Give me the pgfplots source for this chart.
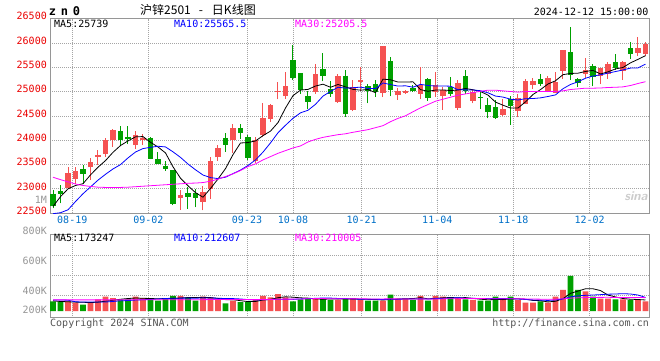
\documentclass[border=0pt]{standalone}
\usepackage{fontspec}
\usepackage{pgfplots}
\pgfplotsset{compat=1.18}
\newfontfamily\mono{DejaVu Sans Mono}
\newfontfamily\monob{DejaVu Sans Mono Bold}
\newfontfamily\cjk{Noto Sans CJK SC}
\newcommand\mf{\mono\fontsize{10bp}{12bp}\selectfont}
\definecolor{kred}{RGB}{245,82,82}
\definecolor{kgreen}{RGB}{0,160,0}
\definecolor{axgray}{RGB}{150,150,150}
\definecolor{gridgray}{RGB}{165,165,165}
\definecolor{tickred}{RGB}{235,0,0}
\definecolor{dateblue}{RGB}{0,112,200}
\definecolor{lblgray}{RGB}{150,150,150}
\definecolor{txtgray}{RGB}{85,85,85}
\definecolor{maten}{RGB}{0,0,255}
\definecolor{mathirty}{RGB}{255,0,255}
\pgfplotsset{
  kbase/.style={
    anchor=south west, scale only axis, width=599bp,
    xmin=-0.4, xmax=79.47,
    scaled x ticks=false, scaled y ticks=false,
    axis line style={draw=axgray, line width=1bp},
    xtick={2.57,12.71,25.87,32,41.16,51.24,61.37,71.56},
    major tick length=0pt,
    grid=major,
    major grid style={draw=gridgray, line width=0.8bp, dash pattern=on 1bp off 1bp},
    unbounded coords=jump,
  }
}
\begin{document}
\begin{tikzpicture}[x=1bp,y=1bp]
\useasboundingbox (0,0) rectangle (660,360);
\fill[white] (0,0) rectangle (660,360);
\begin{axis}[kbase, at={(50bp,146.8bp)}, height=194.5bp,
  ymin=22500, ymax=26500,
  xticklabels={08-19,09-02,09-23,10-08,10-21,11-04,11-18,12-02},
  ytick={22500,23000,23500,24000,24500,25000,25500,26000,26500},
  yticklabels={22500,23000,23500,24000,24500,25000,25500,26000,26500},
  xticklabel style={font=\mf, text=dateblue, anchor=north, inner sep=0pt, yshift=-3bp},
  yticklabel style={font=\mf, text=tickred, anchor=east, inner sep=0pt, xshift=-3bp, yshift=2.5bp},
]
% red (rising) candles: wicks low-high, bodies open-close
\addplot[kred, line width=1bp] coordinates {
(2,22990)(2,23440)(2,nan)(3,23110)(3,23440)(3,nan)(5,23190)(5,23630)(5,nan)(6,23500)(6,23810)(6,nan)
(7,23660)(7,24040)(7,nan)(8,23870)(8,24240)(8,nan)(11,23830)(11,24190)(11,nan)(12,23910)(12,24130)(12,nan)
(17,22570)(17,22980)(17,nan)(20,22560)(20,23050)(20,nan)(21,22800)(21,23650)(21,nan)(22,23580)(22,23910)(22,nan)
(24,23745)(24,24330)(24,nan)(27,23540)(27,24075)(27,nan)(28,24060)(28,24770)(28,nan)(29,24375)(29,24745)(29,nan)
(30,24840)(30,25195)(30,nan)(31,24850)(31,25400)(31,nan)(35,24960)(35,25560)(35,nan)(38,24770)(38,25360)(38,nan)
(40,24600)(40,25240)(40,nan)(41,25005)(41,25500)(41,nan)(44,24885)(44,25935)(44,nan)(46,24830)(46,25075)(46,nan)
(47,24955)(47,25035)(47,nan)(49,24845)(49,25510)(49,nan)(51,24885)(51,25400)(51,nan)(52,24625)(52,25100)(52,nan)
(54,24625)(54,25240)(54,nan)(56,24760)(56,25060)(56,nan)(60,24500)(60,24840)(60,nan)(62,24470)(62,24960)(62,nan)
(63,24745)(63,25250)(63,nan)(64,25060)(64,25290)(64,nan)(66,24990)(66,25315)(66,nan)(67,24975)(67,25400)(67,nan)
(68,25260)(68,25865)(68,nan)(71,25290)(71,25685)(71,nan)(73,25155)(73,25495)(73,nan)(74,25260)(74,25605)(74,nan)
(76,25235)(76,25620)(76,nan)(78,25730)(78,26120)(78,nan)(79,25740)(79,26015)(79,nan)};
\addplot[kred, line width=5.6bp] coordinates {
(2,23020)(2,23330)(2,nan)(3,23200)(3,23360)(3,nan)(5,23440)(5,23550)(5,nan)(6,23660)(6,23690)(6,nan)
(7,23725)(7,24010)(7,nan)(8,24000)(8,24210)(8,nan)(11,23910)(11,24110)(11,nan)(12,24000)(12,24040)(12,nan)
(17,22815)(17,22870)(17,nan)(20,22740)(20,22940)(20,nan)(21,23000)(21,23580)(21,nan)(22,23650)(22,23840)(22,nan)
(24,24005)(24,24250)(24,nan)(27,23580)(27,24005)(27,nan)(28,24100)(28,24455)(28,nan)(29,24445)(29,24715)(29,nan)
(30,24990)(30,25015)(30,nan)(31,24910)(31,25125)(31,nan)(35,24990)(35,25360)(35,nan)(38,24785)(38,25315)(38,nan)
(40,24625)(40,25100)(40,nan)(41,25200)(41,25240)(41,nan)(44,24980)(44,25930)(44,nan)(46,24925)(46,25005)(46,nan)
(47,24980)(47,25020)(47,nan)(49,24955)(49,25130)(49,nan)(51,24995)(51,25130)(51,nan)(52,24910)(52,25035)(52,nan)
(54,24665)(54,25185)(54,nan)(56,24815)(56,24995)(56,nan)(60,24525)(60,24650)(60,nan)(62,24595)(62,24865)(62,nan)
(63,24755)(63,25220)(63,nan)(64,25140)(64,25220)(64,nan)(66,25005)(66,25275)(66,nan)(67,24975)(67,25195)(67,nan)
(68,25425)(68,25850)(68,nan)(71,25360)(71,25455)(71,nan)(73,25330)(73,25480)(73,nan)(74,25370)(74,25565)(74,nan)
(76,25425)(76,25605)(76,nan)(78,25795)(78,25890)(78,nan)(79,25780)(79,25970)(79,nan)};
% green (falling) candles
\addplot[kgreen, line width=1bp] coordinates {
(0,22600)(0,22980)(0,nan)(1,22700)(1,23090)(1,nan)(4,23100)(4,23490)(4,nan)(9,23890)(9,24300)(9,nan)
(10,23920)(10,24290)(10,nan)(13,23610)(13,24060)(13,nan)(14,23510)(14,23765)(14,nan)(15,23370)(15,23575)(15,nan)
(16,22660)(16,23390)(16,nan)(18,22595)(18,23045)(18,nan)(19,22620)(19,23000)(19,nan)(23,23760)(23,24155)(23,nan)
(25,24030)(25,24330)(25,nan)(26,23600)(26,24100)(26,nan)(32,25235)(32,25960)(32,nan)(33,24950)(33,25390)(33,nan)
(34,24635)(34,25015)(34,nan)(36,25210)(36,25795)(36,nan)(37,24895)(37,25210)(37,nan)(39,24485)(39,25455)(39,nan)
(42,24760)(42,25155)(42,nan)(43,24885)(43,25240)(43,nan)(45,24900)(45,25715)(45,nan)(48,24995)(48,25140)(48,nan)
(50,24815)(50,25280)(50,nan)(53,24900)(53,25305)(53,nan)(55,24950)(55,25440)(55,nan)(57,24640)(57,25020)(57,nan)
(58,24450)(58,24860)(58,nan)(59,24435)(59,24830)(59,nan)(61,24320)(61,24905)(61,nan)(65,25125)(65,25360)(65,nan)
(69,25235)(69,26330)(69,nan)(70,25100)(70,25290)(70,nan)(72,25110)(72,25575)(72,nan)(75,25440)(75,25770)(75,nan)
(77,25670)(77,26015)(77,nan)};
\addplot[kgreen, line width=5.6bp] coordinates {
(0,22900)(0,22640)(0,nan)(1,22950)(1,22900)(1,nan)(4,23400)(4,23300)(4,nan)(9,24190)(9,24000)(9,nan)
(10,24070)(10,24020)(10,nan)(13,24050)(13,23620)(13,nan)(14,23615)(14,23520)(14,nan)(15,23480)(15,23410)(15,nan)
(16,23385)(16,22680)(16,nan)(18,22920)(18,22840)(18,nan)(19,22910)(19,22815)(19,nan)(23,24050)(23,23910)(23,nan)
(25,24250)(25,24140)(25,nan)(26,24060)(26,23625)(26,nan)(32,25645)(32,25275)(32,nan)(33,25385)(33,25030)(33,nan)
(34,24905)(34,24785)(34,nan)(36,25465)(36,25315)(36,nan)(37,25055)(37,24960)(37,nan)(39,25330)(39,24540)(39,nan)
(42,25115)(42,25020)(42,nan)(43,25155)(43,24995)(43,nan)(45,25620)(45,25035)(45,nan)(48,25075)(48,25020)(48,nan)
(50,25250)(50,24860)(50,nan)(53,25100)(53,24955)(53,nan)(55,25320)(55,25020)(55,nan)(57,24885)(57,24860)(57,nan)
(58,24720)(58,24585)(58,nan)(59,24680)(59,24465)(59,nan)(61,24840)(61,24700)(61,nan)(65,25250)(65,25155)(65,nan)
(69,25810)(69,25345)(69,nan)(70,25250)(70,25180)(70,nan)(72,25535)(72,25305)(72,nan)(75,25605)(75,25480)(75,nan)
(77,25890)(77,25770)(77,nan)};
% MA5
\addplot[black, line width=0.8bp] coordinates {
(0,22640)(1,22840)(2,23000)(3,23070)(4,23106)(5,23288)(6,23446)(7,23582)(8,23752)(9,23892)(10,23986)(11,24070)
(12,24076)(13,23958)(14,23862)(15,23740)(16,23454)(17,23220)(18,23064)(19,22923)(20,22829)(21,23009)(22,23203)
(23,23417)(24,23704)(25,23944)(26,23953)(27,23986)(28,24095)(29,24188)(30,24363)(31,24663)(32,24917)(33,25032)
(34,25046)(35,25115)(36,25153)(37,25090)(38,25147)(39,25098)(40,25046)(41,25031)(42,25043)(43,24979)(44,25257)
(45,25244)(46,25197)(47,25197)(48,25202)(49,25042)(50,25007)(51,25032)(52,25035)(53,25022)(54,25033)(55,25065)
(56,25038)(57,25003)(58,24929)(59,24785)(60,24721)(61,24662)(62,24663)(63,24790)(64,24941)(65,25042)(66,25157)
(67,25223)(68,25349)(69,25374)(70,25379)(71,25415)(72,25437)(73,25363)(74,25407)(75,25467)(76,25497)(77,25592)
(78,25664)(79,25739)};
% MA10
\addplot[maten, line width=0.8bp] coordinates {
(0,22490)(1,22510)(2,22570)(3,22740)(4,22900)(5,23040)(6,23180)(7,23300)(8,23410)(9,23499)(10,23637)(11,23758)
(12,23829)(13,23855)(14,23877)(15,23863)(16,23762)(17,23648)(18,23511)(19,23393)(20,23285)(21,23232)(22,23212)
(23,23241)(24,23314)(25,23387)(26,23481)(27,23595)(28,23756)(29,23946)(30,24154)(31,24308)(32,24452)(33,24564)
(34,24617)(35,24739)(36,24908)(37,25004)(38,25090)(39,25072)(40,25081)(41,25092)(42,25067)(43,25063)(44,25178)
(45,25145)(46,25114)(47,25120)(48,25091)(49,25150)(50,25126)(51,25115)(52,25116)(53,25112)(54,25038)(55,25036)
(56,25035)(57,25019)(58,24976)(59,24909)(60,24888)(61,24845)(62,24828)(63,24855)(64,24858)(65,24872)(66,24900)
(67,24933)(68,25060)(69,25148)(70,25201)(71,25276)(72,25320)(73,25346)(74,25381)(75,25413)(76,25446)(77,25484)
(78,25488)(79,25565)};
% MA30
\addplot[mathirty, line width=0.8bp] coordinates {
(0,23240)(1,23190)(2,23145)(3,23100)(4,23070)(5,23050)(6,23035)(7,23030)(8,23030)(9,23030)(10,23035)(11,23045)
(12,23055)(13,23065)(14,23075)(15,23085)(16,23095)(17,23105)(18,23115)(19,23120)(20,23130)(21,23159)(22,23200)
(23,23254)(24,23309)(25,23377)(26,23459)(27,23514)(28,23596)(29,23664)(30,23732)(31,23787)(32,23842)(33,23883)
(34,23965)(35,24019)(36,24060)(37,24088)(38,24115)(39,24133)(40,24164)(41,24191)(42,24218)(43,24259)(44,24300)
(45,24382)(46,24450)(47,24504)(48,24586)(49,24667)(50,24735)(51,24803)(52,24844)(53,24885)(54,24926)(55,24953)
(56,24980)(57,25007)(58,25030)(59,25030)(60,25016)(61,25003)(62,24990)(63,25000)(64,25003)(65,25003)(66,25003)
(67,25005)(68,25016)(69,25044)(70,25057)(71,25071)(72,25071)(73,25075)(74,25085)(75,25090)(76,25098)(77,25126)
(78,25167)(79,25205)};
\end{axis}
\begin{axis}[kbase, at={(50bp,42.3bp)}, height=83.4bp,
  ymin=-105, ymax=1204,
  xticklabels={}, ytick={251,565,879}, yticklabels={},
]
\addplot[ybar, bar width=5.6bp, bar shift=0pt, draw=none, fill=kred] coordinates {
(2,152)(3,130)(5,130)(6,184)(7,225)(8,204)(11,225)(12,204)(17,236)(20,225)(21,215)(22,173)(24,162)(27,184)
(28,236)(29,215)(30,267)(31,215)(35,204)(38,173)(40,204)(41,173)(44,162)(46,193)(47,193)(49,236)(51,236)
(52,225)(54,204)(56,173)(60,173)(62,173)(63,130)(64,130)(66,130)(67,225)(68,330)(71,309)(73,193)(74,193)
(76,184)(78,173)(79,152)};
\addplot[ybar, bar width=5.6bp, bar shift=0pt, draw=none, fill=kgreen] coordinates {
(0,152)(1,152)(4,99)(9,184)(10,184)(13,184)(14,162)(15,204)(16,236)(18,215)(19,162)(23,121)(25,141)(26,141)
(32,152)(33,184)(34,193)(36,193)(37,173)(39,204)(42,162)(43,162)(45,256)(48,173)(50,162)(53,204)(55,184)
(57,162)(58,162)(59,225)(61,225)(65,152)(69,550)(70,330)(72,225)(75,184)(77,173)};
\addplot[black, line width=0.8bp] coordinates {
(0,160)(1,150)(2,145)(3,140)(4,137)(5,133)(6,139)(7,154)(8,168)(9,185)(10,196)(11,204)(12,200)(13,196)(14,192)
(15,196)(16,198)(17,204)(18,211)(19,211)(20,215)(21,211)(22,198)(23,179)(24,179)(25,162)(26,148)(27,150)(28,173)
(29,183)(30,209)(31,223)(32,217)(33,207)(34,202)(35,190)(36,185)(37,189)(38,187)(39,189)(40,189)(41,185)(42,183)
(43,181)(44,173)(45,183)(46,187)(47,193)(48,195)(49,210)(50,191)(51,200)(52,206)(53,213)(54,206)(55,211)(56,198)
(57,185)(58,177)(59,181)(60,179)(61,189)(62,192)(63,185)(64,166)(65,162)(66,143)(67,153)(68,193)(69,277)(70,313)
(71,349)(72,349)(73,321)(74,250)(75,221)(76,196)(77,185)(78,181)(79,173)};
\addplot[maten, line width=0.8bp] coordinates {
(0,173)(1,173)(2,170)(3,145)(4,141)(5,141)(6,141)(7,141)(8,150)(9,161)(10,164)(11,172)(12,177)(13,182)(14,189)
(15,196)(16,201)(17,202)(18,203)(19,201)(20,205)(21,204)(22,201)(23,195)(24,195)(25,189)(26,179)(27,174)(28,176)
(29,181)(30,186)(31,186)(32,183)(33,190)(34,193)(35,199)(36,204)(37,203)(38,197)(39,196)(40,190)(41,185)(42,186)
(43,184)(44,181)(45,186)(46,186)(47,188)(48,188)(49,191)(50,187)(51,194)(52,200)(53,204)(54,208)(55,201)(56,199)
(57,196)(58,195)(59,194)(60,195)(61,194)(62,189)(63,181)(64,174)(65,171)(66,166)(67,173)(68,189)(69,222)(70,238)
(71,246)(72,251)(73,257)(74,264)(75,267)(76,272)(77,267)(78,251)(79,213)};
\addplot[mathirty, line width=0.8bp] coordinates {
(0,175)(9,175)(10,178)(20,178)(21,180)(28,180)(29,181)(30,185)(31,187)(32,187)(33,189)(34,192)(35,195)(36,195)
(37,193)(38,192)(39,193)(40,193)(41,192)(42,190)(43,190)(44,190)(45,191)(46,190)(47,188)(48,187)(49,190)(50,187)
(51,188)(52,190)(53,193)(54,194)(55,195)(56,197)(57,196)(58,193)(59,194)(60,191)(61,191)(62,192)(63,190)(64,188)
(65,186)(66,184)(67,186)(68,191)(69,202)(70,207)(71,211)(72,213)(73,214)(74,215)(75,213)(76,213)(77,212)(78,212)
(79,210)};
\end{axis}
% texts
\node[anchor=base, inner sep=0pt, font=\monob\fontsize{12bp}{12bp}\selectfont] at (52.5,344.5) {z};
\node[anchor=base, inner sep=0pt, font=\monob\fontsize{12bp}{12bp}\selectfont] at (64.5,344.5) {n};
\node[anchor=base, inner sep=0pt, font=\monob\fontsize{12bp}{12bp}\selectfont] at (76.5,344.5) {0};
\node[anchor=west, inner sep=0pt, font=\cjk\fontsize{12bp}{14bp}\selectfont] at (140,350) {沪锌2501\hspace{8bp}-\hspace{9bp}日K线图};
\node[anchor=east, inner sep=0pt, font=\mf] at (648.5,348) {2024-12-12 15:00:00};
\node[anchor=west, inner sep=0pt, font=\mf] at (54,336) {MA5:25739};
\node[anchor=west, inner sep=0pt, font=\mf, text=maten] at (174,336) {MA10:25565.5};
\node[anchor=west, inner sep=0pt, font=\mf, text=mathirty] at (295,336) {MA30:25205.5};
\node[anchor=west, inner sep=0pt, font=\mf] at (54,122) {MA5:173247};
\node[anchor=west, inner sep=0pt, font=\mf, text=maten] at (174,122) {MA10:212607};
\node[anchor=west, inner sep=0pt, font=\mf, text=mathirty] at (295,122) {MA30:210005};
\node[anchor=east, inner sep=0pt, font=\mf, text=lblgray] at (47,160) {1M};
\node[anchor=east, inner sep=0pt, font=\mf, text=lblgray] at (47,129) {800K};
\node[anchor=east, inner sep=0pt, font=\mf, text=lblgray] at (47,99.3) {600K};
\node[anchor=east, inner sep=0pt, font=\mf, text=lblgray] at (47,69.3) {400K};
\node[anchor=east, inner sep=0pt, font=\mf, text=lblgray] at (47,50) {200K};
\node[anchor=west, inner sep=0pt, font=\mf, text=txtgray] at (50,36.5) {Copyright 2024 SINA.COM};
\node[anchor=east, inner sep=0pt, font=\mf, text=txtgray] at (649,36) {http://finance.sina.com.cn};
\node[inner sep=0pt, text=gray!40, font=\sffamily\bfseries\itshape\fontsize{13bp}{13bp}\selectfont] at (636,164) {sina};
\end{tikzpicture}
\end{document}
